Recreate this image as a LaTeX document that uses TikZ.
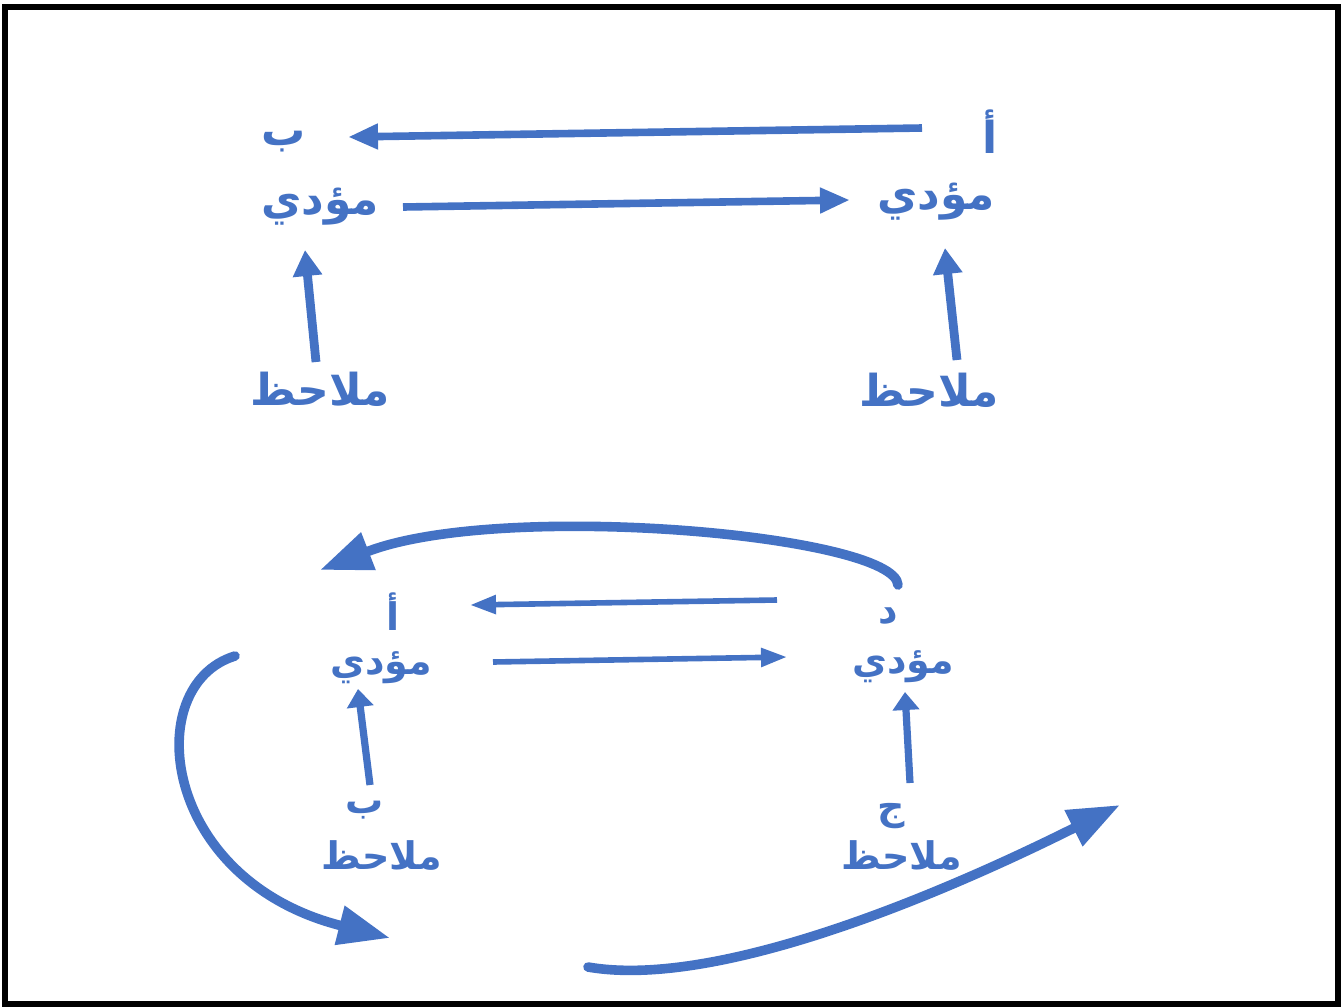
\documentclass[tikz,border=0pt]{standalone}
\usepackage{fontspec}
\newfontfamily\arabicfont[Script=Arabic]{DejaVu Sans}
\TeXXeTstate=1
\usetikzlibrary{arrows.meta,calc}
\definecolor{ab}{HTML}{4472C4}
\tikzset{
  lbig/.style={text=ab, inner sep=0pt, font=\arabicfont\bfseries\fontsize{22}{24}\selectfont},
  lsmall/.style={text=ab, inner sep=0pt, font=\arabicfont\bfseries\fontsize{19}{21}\selectfont},
  arrbig/.style={draw=ab, line width=3.8pt, -{Triangle[length=15pt,width=12pt]}},
  uparrbig/.style={draw=ab, line width=4.4pt, -{Triangle[length=13pt,width=14pt]}},
  arrsmall/.style={draw=ab, line width=2.8pt, -{Triangle[length=13pt,width=9pt]}},
  uparrsmall/.style={draw=ab, line width=3.6pt, -{Triangle[length=9pt,width=13pt]}},
  bigcurve/.style={draw=ab, line width=4.8pt, line cap=round, -{Triangle[length=26pt,width=19pt]}},
}
\begin{document}
\begin{tikzpicture}[x=0.5pt,y=-0.5pt]
\useasboundingbox (0,0) rectangle (1344,1007);
\draw[line width=2.6pt] (5,7) rectangle (1338,1004);

% top diagram
\node[lbig] (A1) at (990,132) {\beginR أ\endR};
\node[lbig] (B1) at (284,142) {\beginR ب\endR};
\node[lbig] (P1) at (320,207) {\beginR مؤدي\endR};
\node[lbig] (P2) at (936,202) {\beginR مؤدي\endR};
\node[lbig] (O1) at (320,389) {\beginR ملاحظ\endR};
\node[lbig] (O2) at (929,390) {\beginR ملاحظ\endR};

\draw[arrbig] ($(A1)+(-68,-4)$) -- ($(B1)+(64,-5)$);
\draw[arrbig] ($(P1)+(83,0)$) -- ($(P2)+(-86,-2)$);
\draw[uparrbig] ($(O1)+(-4,-27)$) -- ($(P1)+(-15,43)$);
\draw[uparrbig] ($(O2)+(28,-30)$) -- ($(P2)+(9,46)$);

% bottom diagram
\node[lsmall] (A2) at (393,612) {\beginR أ\endR};
\node[lsmall] (D) at (888,616) {\beginR د\endR};
\node[lsmall] (P3) at (381,668) {\beginR مؤدي\endR};
\node[lsmall] (P4) at (903,667) {\beginR مؤدي\endR};
\node[lsmall] (B2) at (365,810) {\beginR ب\endR};
\node[lsmall] (O3) at (382,855) {\beginR ملاحظ\endR};
\node[lsmall] (J) at (891,816) {\beginR ج\endR};
\node[lsmall] (O4) at (902,855) {\beginR ملاحظ\endR};

\draw[arrsmall] ($(D)+(-111,-16)$) -- ($(A2)+(77,-7)$);
\draw[arrsmall] ($(P3)+(112,-6)$) -- ($(P4)+(-116,-10)$);
\draw[uparrsmall] ($(B2)+(5,-25)$) -- ($(P3)+(-23,21)$);
\draw[uparrsmall] ($(J)+(19,-33)$) -- ($(P4)+(2,25)$);

% curved arrows
\coordinate (t0) at (898,585);
\coordinate (t1) at (320,570);
\coordinate (l0) at (235,656);
\coordinate (l1) at (390,938);
\coordinate (r0) at (588,967);
\coordinate (r1) at (1120,805);
\draw[bigcurve] (t0) .. controls (895,535) and (500,500) .. (t1);
\draw[bigcurve] (l0) .. controls (140,685) and (160,880) .. (l1);
\draw[bigcurve] (r0) .. controls (720,990) and (950,890) .. (r1);
\end{tikzpicture}
\end{document}
